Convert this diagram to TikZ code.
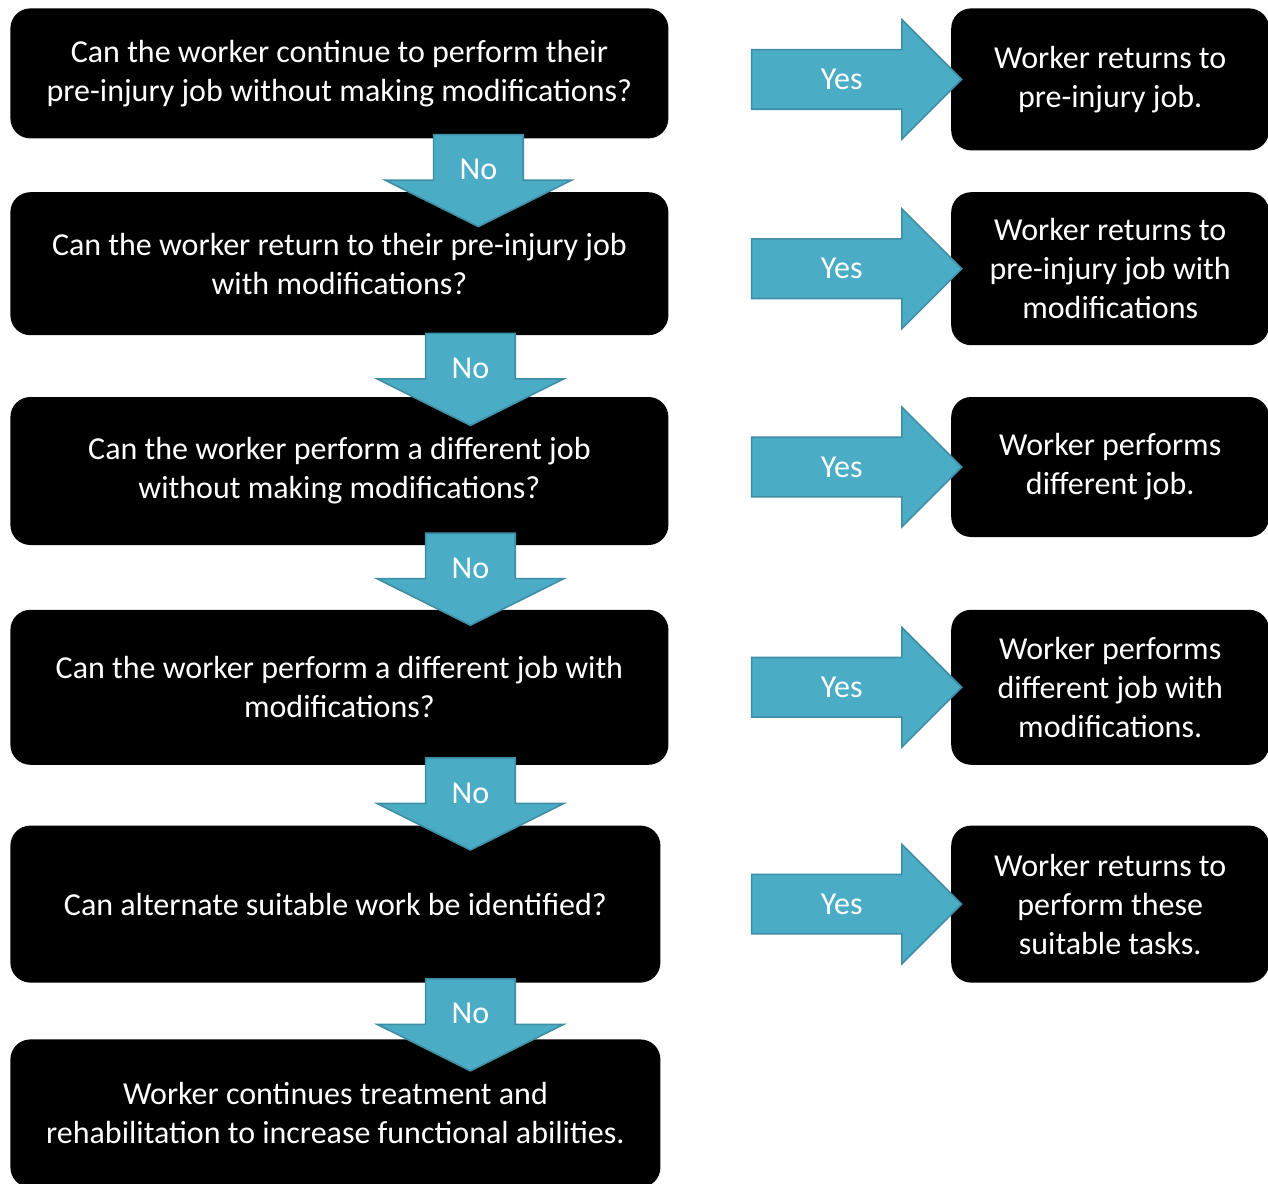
\documentclass[tikz,border=0pt]{standalone}
\usepackage{fontspec}
\setmainfont{Carlito}
\usetikzlibrary{positioning,calc,shapes.arrows}
\definecolor{aqua}{RGB}{75,172,198}
\definecolor{aquaedge}{RGB}{62,142,166}

\tikzset{
  qbox/.style={fill=black,rounded corners=10pt,text=white,align=center,inner sep=4pt,minimum width=329pt},
  abox/.style={fill=black,rounded corners=10pt,text=white,align=center,inner sep=4pt,minimum width=159pt},
  yesarrow/.style={single arrow,fill=aqua,draw=aquaedge,line width=0.8pt,text=white,
    minimum height=105pt,single arrow head extend=15pt,single arrow tip angle=90,
    inner ysep=0pt,inner xsep=6pt,text height=19.5pt,text depth=9.5pt,anchor=tip},
  noarrow/.style={single arrow,shape border rotate=270,fill=aqua,draw=aquaedge,line width=0.8pt,text=white,
    minimum height=46pt,single arrow head extend=24.25pt,single arrow tip angle=127,
    inner xsep=0pt,inner ysep=2pt,text width=44pt,align=center,anchor=tail}
}

\begin{document}
\begin{tikzpicture}[x=0.5pt,y=-0.5pt,every node/.style={font=\fontsize{16}{19.5}\selectfont}]
  \useasboundingbox[fill=white] (0,0) rectangle (1268,1183);
  % questions
  \node[qbox,minimum height=65pt,anchor=north west] (q1) at (10,8) {Can the worker continue to perform their\\pre-injury job without making modifications?};
  \node[qbox,minimum height=71.5pt,below=26.5pt of q1.south west,anchor=north west] (q2) {Can the worker return to their pre-injury job\\with modifications?};
  \node[qbox,minimum height=74pt,below=30.5pt of q2.south west,anchor=north west] (q3) {Can the worker perform a different job\\without making modifications?};
  \node[qbox,minimum height=77.5pt,below=32pt of q3.south west,anchor=north west] (q4) {Can the worker perform a different job with\\modifications?};
  \node[qbox,minimum width=325pt,minimum height=78.5pt,below=30pt of q4.south west,anchor=north west] (q5) {Can alternate suitable work be identified?};
  \node[qbox,minimum width=325pt,minimum height=74pt,below=28pt of q5.south west,anchor=north west] (q6) {Worker continues treatment and\\rehabilitation to increase functional abilities.};
  % outcomes
  \node[abox,minimum height=71pt,right=141pt of q1.north east,anchor=north west] (a1) {Worker returns to\\pre-injury job.};
  \node[abox,minimum height=76.5pt,right=141pt of q2.north east,anchor=north west] (a2) {Worker returns to\\pre-injury job with\\modifications};
  \node[abox,minimum height=70pt,right=141pt of q3.north east,anchor=north west] (a3) {Worker performs\\different job.};
  \node[abox,minimum height=77.5pt,right=141pt of q4.north east,anchor=north west] (a4) {Worker performs\\different job with\\modifications.};
  \node[abox,minimum height=78.5pt,right=145pt of q5.north east,anchor=north west] (a5) {Worker returns to\\perform these\\suitable tasks.};
  % yes arrows
  \node[yesarrow] (y1) at ($(a1.west)+(12,0)$) {Yes};
  \node[yesarrow] (y2) at ($(a2.west)+(12,0)$) {Yes};
  \node[yesarrow] (y3) at ($(a3.west)+(12,0)$) {Yes};
  \node[yesarrow] (y4) at ($(a4.west)+(12,0)$) {Yes};
  \node[yesarrow] (y5) at ($(a5.west)+(12,0)$) {Yes};
  % no arrows
  \node[noarrow] (n1) at ($(q1.south)+(139,-5)$) {No};
  \node[noarrow] (n2) at ($(q2.south)+(131,-3)$) {No};
  \node[noarrow] (n3) at ($(q3.south)+(131,-13)$) {No};
  \node[noarrow] (n4) at ($(q4.south)+(131,-8)$) {No};
  \node[noarrow] (n5) at ($(q5.south)+(135,-5)$) {No};
\end{tikzpicture}
\end{document}
